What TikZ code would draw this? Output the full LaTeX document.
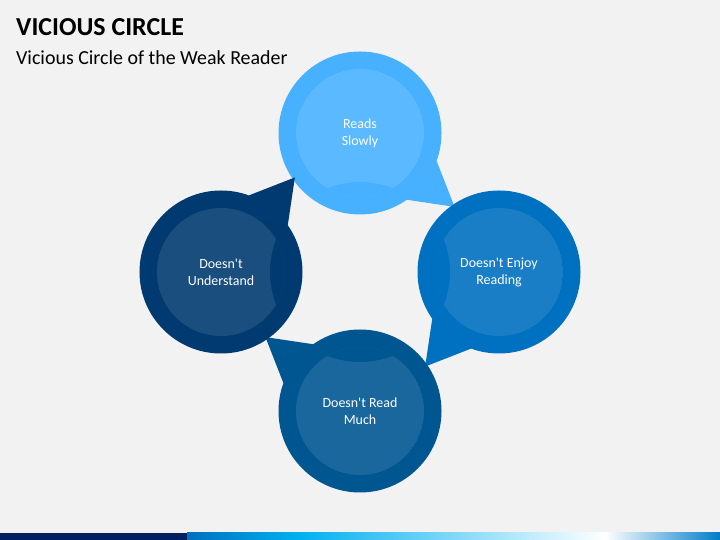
\documentclass[tikz,border=0pt]{standalone}
\usepackage{fontspec}
\setmainfont{Carlito}
\usetikzlibrary{positioning, calc}
\definecolor{slowcolor}{RGB}{71, 177, 255}
\definecolor{enjoycolor}{RGB}{0, 112, 192}
\definecolor{muchcolor}{RGB}{0, 86, 145}
\definecolor{undercolor}{RGB}{0, 58, 112}
\definecolor{pagecolor}{RGB}{242, 242, 242}
\definecolor{barnavy}{RGB}{0, 32, 96}
\definecolor{barcyan}{RGB}{0, 176, 240}

\begin{document}
\begin{tikzpicture}[
    x=1bp, y=1bp,
    bubble/.style={circle, minimum size=163bp, inner sep=0pt},
    caption/.style={font=\fontsize{14}{17}\selectfont, text=white, align=center},
    heading/.style={font=\fontsize{26}{30}\selectfont\bfseries, anchor=base west, inner sep=0pt},
    subheading/.style={font=\fontsize{20}{24}\selectfont, anchor=base west, inner sep=0pt}
]
    % Page
    \fill[pagecolor] (0,0) rectangle (720,540);
    \useasboundingbox (0,0) rectangle (720,540);
    \node[heading] (title) at (16,504) {VICIOUS CIRCLE};
    \node[subheading] (subtitle) at (16,475) {Vicious Circle of the Weak Reader};

    % Bubbles, clockwise from the top
    \coordinate (hub) at (360,268);
    \foreach \ang/\col/\nm/\txt in {90/slowcolor/slow/{Reads\\Slowly},
        0/enjoycolor/enjoy/{Doesn\textquotesingle t Enjoy\\Reading},
        -90/muchcolor/much/{Doesn\textquotesingle t Read\\Much},
        180/undercolor/under/{Doesn\textquotesingle t\\Understand}}{
        \node[bubble, fill=\col] (\nm) at ($(hub)+(\ang:139bp)$) {};
        \fill[\col] ($(\nm)+(\ang-110:81.5bp)$) -- ($(\nm)+(\ang-128:120bp)$)
            -- ($(\nm)+(\ang-145:81.5bp)$) -- cycle;
        \begin{scope}
            \clip (\nm) circle (64bp);
            \fill[\col!90!white, even odd rule] (\nm) circle (64bp) (hub) circle (90bp);
        \end{scope}
        \node[caption] (\nm-text) at (\nm) {\txt};
    }

    % Footer bar
    \fill[barnavy] (0,0) rectangle (187,7);
    \shade[left color=enjoycolor, right color=barcyan] (187,0) rectangle (298,7);
    \shade[left color=barcyan, right color=white] (298,0) rectangle (605,7);
    \shade[left color=white, right color=enjoycolor!80!barcyan] (605,0) rectangle (720,7);
\end{tikzpicture}
\end{document}
